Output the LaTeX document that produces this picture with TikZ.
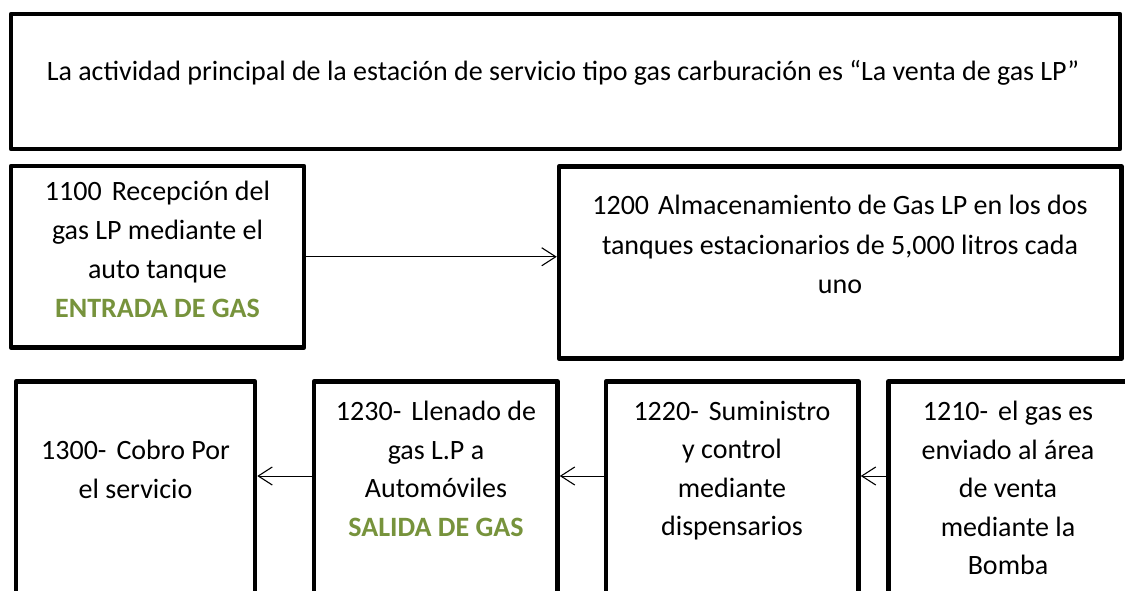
\documentclass[tikz,border=0pt]{standalone}
\usepackage{fontspec}
\setmainfont{Carlito}
\usetikzlibrary{arrows.meta}
\definecolor{olivegreen}{HTML}{77933C}
\begin{document}
\begin{tikzpicture}[x=1pt,y=-1pt,
  box/.style={draw=black, line width=4.5pt, line join=round, outer sep=0pt, inner sep=0pt, anchor=north west},
  txt/.style={align=center, inner sep=0pt, anchor=north, font=\fontsize{28}{39}\selectfont,
    execute at begin node={\vrule width 0pt height 22pt depth 0pt\relax}},
  txtb/.style={txt, font=\fontsize{28}{38.5}\selectfont},
  flow/.style={draw=black, line width=1pt, -{Straight Barb[length=14pt,width=18pt,line width=1.1pt]},
    shorten >=2.25pt, shorten <=2.25pt}
]
\path[use as bounding box, fill=white] (0,0) rectangle (1125,591);
\clip (0,0) rectangle (1125,591);

% boxes
\node[box, minimum width=1109pt, minimum height=135pt] (top) at (11,14) {};
\node[box, minimum width=293pt, minimum height=181.5pt] (b1100) at (11,166) {};
\node[box, minimum width=562.5pt, minimum height=192pt] (b1200) at (559,166.5) {};
\node[box, minimum width=239pt, minimum height=250pt] (b1300) at (16,381.5) {};
\node[box, minimum width=243.5pt, minimum height=250pt] (b1230) at (314,381.5) {};
\node[box, minimum width=252.5pt, minimum height=250pt] (b1220) at (606,381.5) {};
\node[box, minimum width=240pt, minimum height=250pt] (b1210) at (888.5,381.5) {};

% texts
\node[txt] (t0) at (563,58) {La actividad principal de la estación de servicio tipo gas carburación es “La venta de gas LP”};
\node[txt] (t1100) at (157.5,181) {1100\hspace{10pt}Recepción del\\gas LP mediante el\\auto tanque\\\textcolor{olivegreen}{\bfseries ENTRADA DE GAS}};
\node[txt, font=\fontsize{28}{39.5}\selectfont] (t1200) at (840,195) {1200\hspace{9pt}Almacenamiento de Gas LP en los dos\\tanques estacionarios de 5,000 litros cada\\uno};
\node[txtb] (t1300) at (135.5,440) {1300-\hspace{10pt}Cobro Por\\el servicio};
\node[txtb] (t1230) at (436,401) {1230-\hspace{10pt}Llenado de\\gas L.P a\\Automóviles\\\textcolor{olivegreen}{\bfseries SALIDA DE GAS}};
\node[txtb] (t1220) at (732,401) {1220-\hspace{10pt}Suministro\\y control\\mediante\\dispensarios};
\node[txtb] (t1210) at (1008,401) {1210-\hspace{10pt}el gas es\\enviado al área\\de venta\\mediante la\\Bomba};

% connectors
\coordinate (r3) at (0,476);
\draw[flow] (b1100.east) -- (b1100.east -| b1200.west);
\draw[flow] (b1210.west |- r3) -- (b1220.east |- r3);
\draw[flow] (b1220.west |- r3) -- (b1230.east |- r3);
\draw[flow] (b1230.west |- r3) -- (b1300.east |- r3);
\end{tikzpicture}
\end{document}
